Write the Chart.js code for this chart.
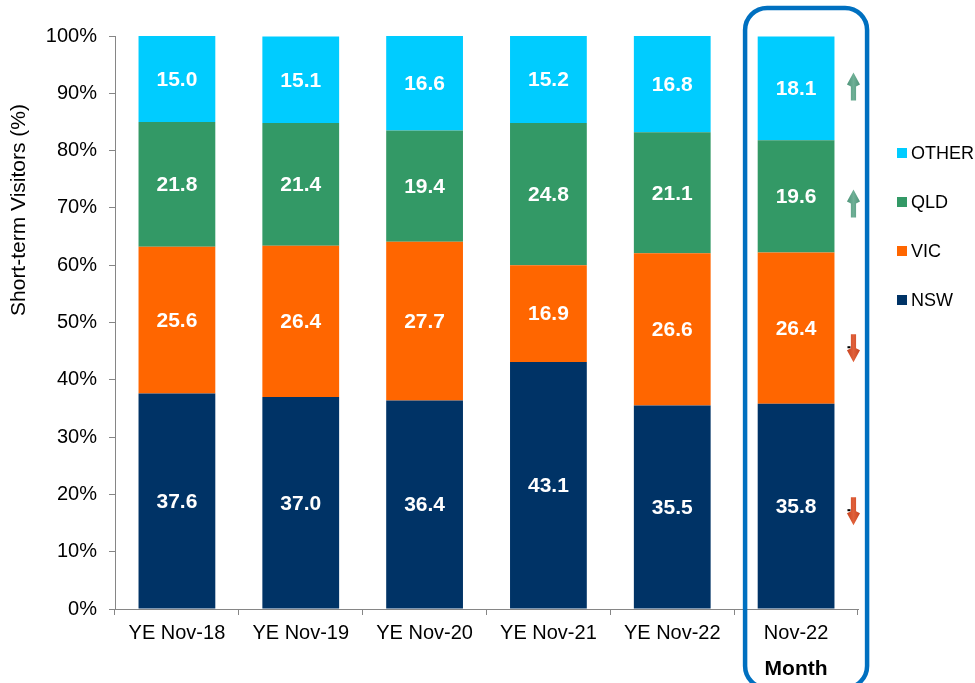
<!DOCTYPE html>
<html>
<head>
<meta charset="utf-8">
<title>Short-term Visitors by State</title>
<script src="https://cdn.jsdelivr.net/npm/chart.js@4.4.1/dist/chart.umd.min.js"></script>
<style>
  html, body { margin:0; padding:0; background:#fff; }
  canvas { display:block; }
</style>
</head>
<body>
<canvas id="visChart" width="975" height="683"></canvas>
<script>
// ── Data ─────────────────────────────────────────────────
const categories  = ["YE Nov-18","YE Nov-19","YE Nov-20","YE Nov-21","YE Nov-22","Nov-22"];
const nswValues   = [37.6, 37.0, 36.4, 43.1, 35.5, 35.8];
const vicValues   = [25.6, 26.4, 27.7, 16.9, 26.6, 26.4];
const qldValues   = [21.8, 21.4, 19.4, 24.8, 21.1, 19.6];
const otherValues = [15.0, 15.1, 16.6, 15.2, 16.8, 18.1];
const yTickValues = [0, 10, 20, 30, 40, 50, 60, 70, 80, 90, 100];
// change for the latest month, same order as datasets (NSW, VIC, QLD, OTHER)
const monthChange = ["down", "down", "up", "up"];

const FONT = "'Liberation Sans', Arial, sans-serif";
const AXIS_GREY = "#868686";

// ── Extras drawn on top: labels, arrows, box, legend, titles ──
const extrasPlugin = {
  id: "extras",
  afterDatasetsDraw(chart) {
    const ctx = chart.ctx;
    const x = chart.scales.x;

    // white value labels in each segment
    ctx.save();
    ctx.font = "bold 21px " + FONT;
    ctx.fillStyle = "#fff";
    ctx.textAlign = "center";
    ctx.textBaseline = "middle";
    chart.data.datasets.forEach((ds, di) => {
      chart.getDatasetMeta(di).data.forEach((el, i) => {
        ctx.fillText(ds.data[i].toFixed(1), el.x, (el.y + el.base) / 2 + 1);
      });
    });
    ctx.restore();

    // up / down arrows beside the month bar
    const offs = [5, 20, 7, -2];
    const last = categories.length - 1;
    chart.data.datasets.forEach((ds, di) => {
      const el = chart.getDatasetMeta(di).data[last];
      const cx = el.x + el.width / 2 + 19;
      const cy = (el.y + el.base) / 2 + offs[di];
      drawArrow(ctx, cx, cy, monthChange[di]);
    });

    // rounded box round the month column
    const mx = x.getPixelForValue(last);
    ctx.save();
    ctx.strokeStyle = "#0070C0";
    ctx.lineWidth = 4.5;
    ctx.beginPath();
    ctx.roundRect(mx - 51, 8, 122, 680, 22);
    ctx.stroke();
    ctx.fillStyle = "#000";
    ctx.font = "bold 21px " + FONT;
    ctx.textAlign = "center";
    ctx.textBaseline = "middle";
    ctx.fillText("Month", mx, 669);
    ctx.restore();

    // legend (top series first)
    ctx.save();
    ctx.font = "18px " + FONT;
    ctx.textBaseline = "middle";
    const ds = chart.data.datasets.slice().reverse();
    ds.forEach((d, i) => {
      const ly = 153 + i * 49;
      ctx.fillStyle = d.backgroundColor;
      ctx.fillRect(897, ly - 5, 10, 10);
      ctx.fillStyle = "#000";
      ctx.fillText(d.label, 911, ly + 1);
    });
    ctx.restore();

    // y axis title
    ctx.save();
    ctx.translate(19, 210);
    ctx.rotate(-Math.PI / 2);
    ctx.font = "21px " + FONT;
    ctx.fillStyle = "#000";
    ctx.textAlign = "center";
    ctx.textBaseline = "middle";
    ctx.fillText("Short-term Visitors (%)", 0, 0);
    ctx.restore();
  }
};

function drawArrow(ctx, cx, cy, dir) {
  const s = dir === "up" ? -1 : 1;
  const half = 14, headH = 12, barb = 14, headW = 6.5, shaftW = 2.6;
  ctx.save();
  const g = ctx.createLinearGradient(cx - headW, 0, cx + headW, 0);
  if (dir === "up") { g.addColorStop(0, "#4E9479"); g.addColorStop(0.5, "#6FB096"); g.addColorStop(1, "#4E9479"); }
  else { g.addColorStop(0, "#C8431F"); g.addColorStop(0.5, "#E0603A"); g.addColorStop(1, "#C8431F"); }
  ctx.fillStyle = g;
  ctx.beginPath();
  ctx.moveTo(cx, cy + s * half);
  ctx.lineTo(cx + headW, cy + s * (half - headH));
  ctx.lineTo(cx + shaftW, cy + s * (half - barb));
  ctx.lineTo(cx + shaftW, cy - s * half);
  ctx.lineTo(cx - shaftW, cy - s * half);
  ctx.lineTo(cx - shaftW, cy + s * (half - barb));
  ctx.lineTo(cx - headW, cy + s * (half - headH));
  ctx.closePath();
  ctx.fill();
  if (dir === "down") {
    ctx.fillStyle = "#000";
    ctx.fillRect(cx - 6, cy - 2, 3, 2);
  }
  ctx.restore();
}

// ── Chart ────────────────────────────────────────────────
const ds = (label, data, color) => ({
  label, data, backgroundColor: color, borderWidth: 0,
  barPercentage: 0.62, categoryPercentage: 1
});

new Chart(document.getElementById("visChart").getContext("2d"), {
  type: "bar",
  data: {
    labels: categories,
    datasets: [
      ds("NSW",   nswValues,   "#003366"),
      ds("VIC",   vicValues,   "#FF6600"),
      ds("QLD",   qldValues,   "#339966"),
      ds("OTHER", otherValues, "#00CCFF"),
    ]
  },
  options: {
    responsive: false,
    animation: false,
    layout: { padding: { top: 36, right: 117, left: 0, bottom: 0 } },
    plugins: { legend: { display: false }, tooltip: { enabled: false } },
    scales: {
      x: {
        stacked: true,
        grid: { display: true, drawOnChartArea: false, offset: true, tickLength: 6, color: AXIS_GREY },
        border: { color: AXIS_GREY, width: 1 },
        ticks: { color: "#000", font: { family: FONT, size: 20 }, padding: 6, maxRotation: 0 },
        afterFit: s => { s.height = 74; }
      },
      y: {
        stacked: true,
        min: 0, max: 100,
        afterBuildTicks: s => { s.ticks = yTickValues.map(v => ({ value: v })); },
        grid: { display: true, drawOnChartArea: false, tickLength: 6, color: AXIS_GREY },
        border: { color: AXIS_GREY, width: 1 },
        ticks: { color: "#000", font: { family: FONT, size: 20 }, padding: 12, callback: v => v + "%" },
        afterFit: s => { s.width = 115; }
      }
    }
  },
  plugins: [extrasPlugin]
});
</script>
</body>
</html>
